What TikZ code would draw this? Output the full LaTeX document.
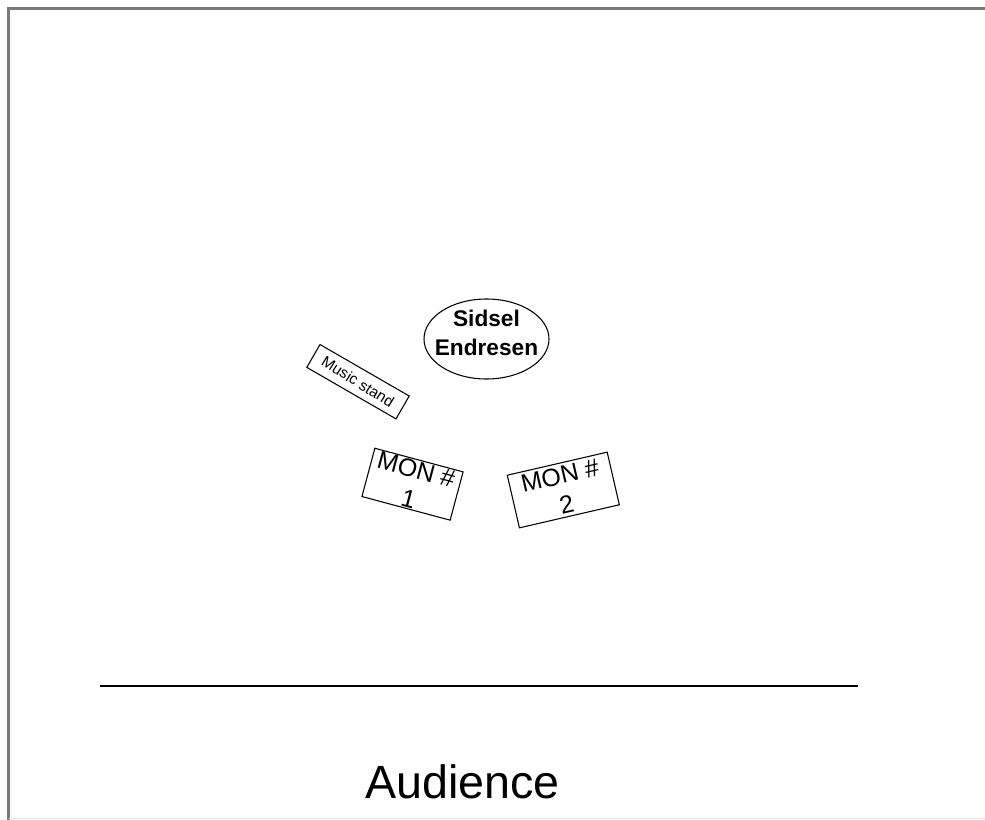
\documentclass[tikz,border=0pt]{standalone}
\usepackage{fontspec}
\setmainfont{Liberation Sans}
\usetikzlibrary{shapes.geometric,calc}
\begin{document}
\begin{tikzpicture}[x=0.75pt,y=-0.75pt,
  framestyle/.style={draw=black!52, line width=1.6pt},
  stagebox/.style={draw=black, line width=0.8pt, rectangle, inner sep=0pt},
  boxtext/.style={font=\fontsize{18.75}{22.5}\selectfont, align=center, inner sep=0pt},
  standtext/.style={font=\fontsize{11.5}{13}\selectfont, inner sep=0pt},
  persontext/.style={font=\fontsize{17}{21.75}\selectfont\bfseries, align=center, inner sep=0pt},
  personshape/.style={draw=black, line width=0.8pt, ellipse, inner sep=0pt, minimum width=93.75pt, minimum height=60pt},
  edgeline/.style={draw=black, line width=1pt}]
\useasboundingbox (0,0) rectangle (985,820);
% page frame
\draw[framestyle] (8.5,820) -- (8.5,8.5) -- (985,8.5);
\draw[draw=black!10, line width=1pt] (8.5,818.5) -- (985,818.5);
% singer
\node[personshape] (sidsel) at (486.5,339) {};
\node[persontext] (sidseltext) at (486.5,332.5) {Sidsel\\Endresen};
% music stand
\node[stagebox, rotate=-30, minimum width=77.25pt, minimum height=19.8pt] (stand) at (358,381.7) {};
\node[standtext, rotate=-32] (standtext) at (stand.center) {Music stand};
% monitors
\node[stagebox, rotate=-15, minimum width=68.5pt, minimum height=37.5pt] (mon1) at (412.5,484.2) {};
\node[boxtext, rotate=-15] (mon1text) at (mon1.center) {MON \#\\1};
\node[stagebox, rotate=13, minimum width=76.9pt, minimum height=40.5pt] (mon2) at (563.3,490) {};
\node[boxtext, rotate=13] (mon2text) at (mon2.center) {MON \#\\2};
% stage edge
\coordinate (edgeL) at (100,686);
\coordinate (edgeR) at (858,686);
\draw[edgeline] (edgeL) -- (edgeR);
% audience
\node[font=\fontsize{35}{40}\selectfont, anchor=base, inner sep=0pt] (audience) at (462.5,798) {Audience};
\end{tikzpicture}
\end{document}
